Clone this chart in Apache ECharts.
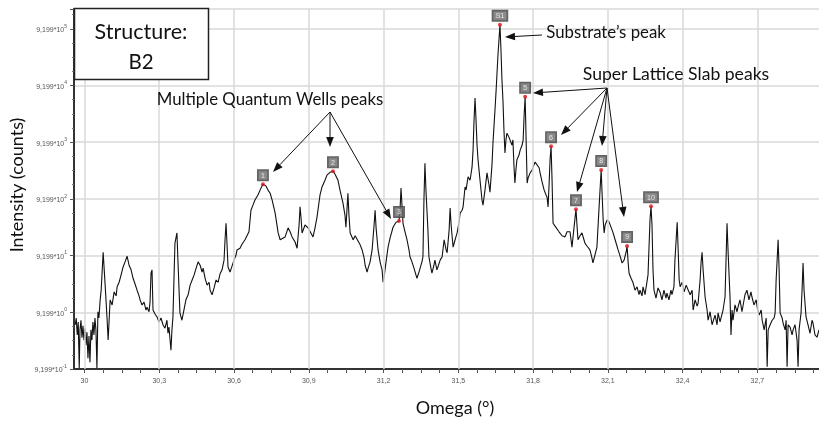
<!DOCTYPE html>
<html><head><meta charset="utf-8">
<script src="https://cdn.jsdelivr.net/npm/echarts@6/dist/echarts.min.js"></script>
<style>html,body{margin:0;padding:0;background:#fff}#c{width:819px;height:423px}</style>
</head><body><div id="c"></div>
<script>
// Omega (deg) and log10(Intensity / 9.199)
const omega = [
29.963,29.967,29.971,29.975,29.979,29.982,29.986,29.990,29.994,29.998,
30.002,30.006,30.010,30.014,30.018,30.022,30.026,30.030,30.034,30.038,
30.042,30.046,30.050,30.054,30.058,30.063,30.067,30.075,30.083,30.091,
30.095,30.103,30.111,30.119,30.127,30.131,30.139,30.147,30.155,30.163,
30.171,30.179,30.187,30.195,30.203,30.211,30.219,30.223,30.231,30.239,
30.247,30.251,30.259,30.263,30.267,30.271,30.275,30.283,30.291,30.299,
30.307,30.315,30.323,30.331,30.335,30.339,30.347,30.351,30.355,30.359,
30.363,30.371,30.375,30.383,30.391,30.399,30.407,30.416,30.424,30.432,
30.440,30.448,30.456,30.464,30.472,30.476,30.484,30.492,30.500,30.504,
30.512,30.520,30.528,30.536,30.544,30.552,30.560,30.564,30.568,30.572,
30.576,30.584,30.592,30.600,30.608,30.612,30.624,30.632,30.644,30.652,
30.660,30.668,30.676,30.684,30.696,30.708,30.716,30.728,30.736,30.745,
30.753,30.765,30.773,30.777,30.785,30.793,30.805,30.817,30.825,30.833,
30.845,30.853,30.861,30.865,30.869,30.873,30.885,30.897,30.905,30.917,
30.925,30.933,30.945,30.953,30.965,30.973,30.985,30.997,31.005,31.017,
31.025,31.037,31.045,31.049,31.053,31.057,31.061,31.066,31.078,31.086,
31.094,31.106,31.114,31.122,31.126,31.134,31.138,31.146,31.154,31.162,
31.166,31.170,31.178,31.186,31.194,31.198,31.202,31.210,31.218,31.226,
31.238,31.250,31.262,31.266,31.270,31.274,31.278,31.286,31.294,31.302,
31.306,31.314,31.322,31.326,31.334,31.342,31.346,31.354,31.358,31.362,
31.366,31.370,31.378,31.382,31.390,31.394,31.402,31.406,31.414,31.418,
31.427,31.435,31.443,31.451,31.455,31.463,31.467,31.471,31.479,31.487,
31.495,31.503,31.507,31.515,31.519,31.527,31.531,31.539,31.547,31.555,
31.559,31.563,31.567,31.571,31.575,31.579,31.587,31.595,31.599,31.607,
31.615,31.623,31.627,31.635,31.639,31.647,31.651,31.659,31.667,31.671,
31.675,31.679,31.683,31.687,31.691,31.695,31.703,31.707,31.715,31.719,
31.723,31.727,31.731,31.735,31.743,31.748,31.756,31.760,31.764,31.768,
31.772,31.776,31.780,31.788,31.796,31.800,31.808,31.816,31.824,31.828,
31.836,31.844,31.852,31.856,31.860,31.864,31.868,31.872,31.876,31.880,
31.888,31.896,31.904,31.908,31.916,31.928,31.936,31.944,31.948,31.956,
31.964,31.972,31.976,31.980,31.988,31.996,32.004,32.008,32.016,32.028,
32.036,32.040,32.048,32.056,32.064,32.073,32.077,32.081,32.085,32.089,
32.097,32.105,32.109,32.117,32.121,32.129,32.141,32.149,32.157,32.161,
32.165,32.173,32.177,32.181,32.185,32.193,32.201,32.209,32.217,32.225,
32.229,32.237,32.241,32.249,32.257,32.261,32.269,32.273,32.277,32.281,
32.285,32.293,32.301,32.309,32.317,32.325,32.333,32.337,32.345,32.353,
32.357,32.365,32.369,32.378,32.382,32.386,32.390,32.398,32.406,32.414,
32.422,32.430,32.438,32.442,32.450,32.458,32.462,32.470,32.474,32.478,
32.482,32.490,32.498,32.502,32.510,32.518,32.522,32.530,32.538,32.542,
32.550,32.558,32.562,32.570,32.574,32.578,32.582,32.590,32.594,32.598,
32.602,32.610,32.618,32.622,32.630,32.638,32.642,32.650,32.658,32.666,
32.674,32.678,32.686,32.695,32.699,32.707,32.715,32.719,32.727,32.735,
32.739,32.743,32.751,32.759,32.767,32.771,32.775,32.783,32.787,32.791,
32.799,32.803,32.811,32.815,32.819,32.823,32.831,32.839,32.843,32.851,
32.859,32.863,32.867,32.875,32.879,32.883,32.887,32.895,32.903,32.911,
32.919,32.923,32.931,32.939,32.947];
const logIntensity = [
-0.22,-0.10,-0.40,-0.17,-0.98,-0.31,-0.14,-0.45,-0.24,-0.49,
-0.28,-0.58,-0.35,-0.81,-0.42,-0.88,-0.31,-0.49,-0.17,-0.40,
-0.10,-0.31,-0.98,0.01,-0.10,0.22,0.39,1.06,0.48,-0.14,
-0.49,0.22,0.13,0.36,0.29,0.45,0.53,0.66,0.80,0.89,
0.99,0.83,0.75,0.60,0.50,0.39,0.29,0.22,0.13,0.18,
0.04,0.09,0.01,0.18,0.69,0.75,0.04,-0.03,-0.08,-0.17,
-0.10,-0.22,-0.28,-0.14,-0.37,-0.26,-0.67,-0.31,-0.08,0.57,
1.22,1.40,0.92,-0.01,-0.14,0.04,0.22,0.31,0.48,0.57,
0.66,0.78,0.89,0.83,0.71,0.78,0.60,0.48,0.53,0.39,
0.31,0.43,0.57,0.53,0.68,0.75,0.92,1.28,1.57,1.19,
0.80,0.71,0.69,0.92,1.01,1.10,1.13,1.20,1.28,1.28,
1.42,1.80,1.89,1.98,2.07,2.19,2.26,2.23,2.16,2.10,
1.98,1.75,1.52,1.40,1.28,1.31,1.33,1.49,1.42,1.33,
1.24,1.13,1.54,1.86,1.66,1.40,1.54,1.49,1.50,1.33,
1.49,1.68,2.07,2.21,2.33,2.42,2.47,2.49,2.44,2.33,
2.16,1.93,1.72,1.50,1.80,2.10,1.72,1.40,1.28,1.35,
1.33,1.19,1.10,0.96,0.83,0.71,0.78,0.89,1.10,1.54,
1.80,1.49,1.10,0.89,0.75,0.53,0.62,0.89,1.15,1.31,
1.50,1.59,1.61,1.80,2.19,1.89,1.57,1.42,1.28,1.10,
0.98,0.89,0.78,0.75,0.60,0.71,0.69,0.89,0.98,1.98,
2.63,2.16,1.45,0.98,0.78,0.69,0.83,0.92,0.75,0.80,
0.92,0.98,1.28,1.10,1.05,1.45,1.84,1.54,1.15,1.28,
1.40,1.59,1.75,1.80,1.86,2.21,2.16,2.39,2.33,2.56,
2.86,3.39,3.78,3.39,2.95,2.69,2.33,1.98,1.89,2.16,
2.46,2.25,2.12,2.60,2.99,3.57,3.87,4.54,5.07,4.63,
4.10,3.74,3.22,2.81,3.04,3.16,3.09,3.09,2.95,3.04,
2.60,2.28,2.51,2.69,2.77,2.86,2.95,3.04,3.48,3.80,
3.04,2.28,2.37,2.46,2.51,2.56,2.65,2.65,2.55,2.46,
2.30,2.16,2.07,2.03,1.86,2.25,2.69,2.93,2.33,1.57,
1.52,1.50,1.42,1.40,1.35,1.33,1.42,1.45,1.42,1.15,
1.49,1.82,1.54,1.28,1.35,1.40,1.28,1.22,1.17,1.10,
0.96,0.87,1.01,1.15,1.80,2.51,2.07,1.63,1.40,1.54,
1.63,1.59,1.57,1.45,1.40,1.28,1.10,0.99,0.87,0.90,
0.92,1.06,1.17,0.89,0.69,0.60,0.52,0.39,0.45,0.31,
0.39,0.29,0.45,0.31,0.34,0.66,1.63,1.87,1.54,0.75,
0.39,0.25,0.43,0.36,0.22,0.39,0.25,0.34,0.22,0.39,
0.31,0.45,0.92,1.59,1.10,0.57,0.45,0.53,0.36,0.48,
0.45,0.31,0.39,0.04,0.22,0.11,0.16,0.57,0.89,1.06,
0.75,0.27,0.04,-0.14,0.01,-0.22,-0.19,-0.05,-0.22,-0.01,
-0.17,-0.14,0.04,0.27,0.92,1.57,1.10,0.27,-0.40,0.04,
-0.14,0.13,0.01,0.09,0.22,0.01,0.04,0.31,0.39,0.22,
0.36,0.27,0.13,0.22,0.09,-0.05,0.04,-0.14,-0.31,-0.10,
-0.96,-0.31,-0.22,-0.14,-0.10,-0.01,0.57,1.28,0.75,-0.01,
-0.10,-0.19,-0.31,-0.14,-0.96,-0.22,-0.26,-0.40,-0.31,-0.22,
-0.49,-0.96,-0.31,-0.01,0.39,0.87,0.39,-0.08,-0.22,-0.37,
-0.14,-0.19,-0.40,-0.44,-0.31];

// Marked peaks
const peakNames = ['1','2','3','S1','5','6','7','8','9','10'];
const peakOmega = [30.716,30.997,31.262,31.667,31.768,31.872,31.972,32.073,32.177,32.273];
const peakLogI  = [2.26,2.49,1.61,5.07,3.80,2.93,1.82,2.51,1.17,1.87];

// Axis ticks
const xTickValues = [30,30.3,30.6,30.9,31.2,31.5,31.8,32.1,32.4,32.7];
const xTickLabels = ['30','30,3','30,6','30,9','31,2','31,5','31,8','32,1','32,4','32,7'];
const yExponents  = [-1,0,1,2,3,4,5];

const X_MIN = 29.958, X_MAX = 32.947;
const minorX = [];
for (let i = 0; i < xTickValues.length; i++) {
  for (let k = 0; k < 4; k++) {
    const v = +(xTickValues[i] + k * 0.075).toFixed(3);
    if (v <= X_MAX) minorX.push(v);
  }
}

const FONT = 'Lato';
function arrow(x1, y1, x2, y2) {
  const dx = x2 - x1, dy = y2 - y1, L = Math.hypot(dx, dy), ux = dx / L, uy = dy / L;
  const hl = 10, hw = 3.8, bx = x2 - ux * hl, by = y2 - uy * hl;
  return [
    {type: 'line', z: 50, shape: {x1, y1, x2: bx, y2: by}, style: {stroke: '#111', lineWidth: 1}},
    {type: 'polygon', z: 50, shape: {points: [[x2, y2], [bx - uy * hw, by + ux * hw], [bx + uy * hw, by - ux * hw]]}, style: {fill: '#111'}}
  ];
}
function txt(text, x, y, size, extra) {
  return Object.assign({type: 'text', z: 60, x, y, style: {text, fontSize: size, fontFamily: FONT, fill: '#111', align: 'center', verticalAlign: 'middle'}}, extra || {});
}

const graphics = [
  {type: 'rect', z: 40, shape: {x: 74.5, y: 8.5, width: 134, height: 71}, style: {fill: '#fff', stroke: '#222', lineWidth: 1.5}},
  txt('Structure:', 141, 32, 21.5),
  txt('B2', 141, 62, 20.5),
  txt('Multiple Quantum Wells peaks', 270, 100, 16.8),
  txt('Substrate\u2019s peak', 606, 33, 16.8),
  txt('Super Lattice Slab peaks', 676, 74, 17.6),
  txt('Intensity (counts)', 17, 185, 18, {rotation: Math.PI / 2}),
  txt('Omega (°)', 455, 408, 18),
  ...arrow(330, 112, 273, 172),
  ...arrow(330, 112, 330, 147),
  ...arrow(330, 112, 391, 219),
  ...arrow(542, 35, 505, 37),
  ...arrow(607, 88, 533, 93),
  ...arrow(607, 88, 561, 135),
  ...arrow(607, 88, 577, 192),
  ...arrow(607, 88, 602, 146),
  ...arrow(607, 88, 624, 217)
];

const chart = echarts.init(document.getElementById('c'), null, {renderer: 'canvas'});
chart.setOption({
  animation: false,
  backgroundColor: '#fff',
  grid: {left: 74, right: 0, top: 9, bottom: 54},
  xAxis: {
    type: 'value', min: X_MIN, max: X_MAX,
    axisLine: {show: true, onZero: false, lineStyle: {color: '#333', width: 2}},
    axisTick: {show: true, customValues: minorX, length: 4, lineStyle: {color: '#555'}},
    axisLabel: {
      customValues: xTickValues, margin: 9, fontSize: 7, color: '#555', fontFamily: 'Liberation Sans',
      formatter: v => { const i = xTickValues.findIndex(t => Math.abs(t - v) < 1e-6); return i >= 0 ? xTickLabels[i] : ''; }
    },
    splitLine: {show: false}
  },
  yAxis: {
    type: 'value', min: -1, max: 5.35, interval: 1,
    axisLine: {show: true, onZero: false, lineStyle: {color: '#333', width: 2}},
    axisTick: {show: true, length: 4, lineStyle: {color: '#555'}},
    minorTick: {show: true, splitNumber: 4, length: 2, lineStyle: {color: '#777'}},
    splitLine: {show: true, lineStyle: {color: '#d8d8d8', width: 1.5}},
    axisLabel: {
      showMaxLabel: false, margin: 7,
      formatter: v => yExponents.indexOf(v) >= 0 ? '{a|9,199*10}{s|' + v + '}' : '',
      rich: {
        a: {fontSize: 7, color: '#555', fontFamily: 'Liberation Sans', verticalAlign: 'bottom', lineHeight: 10},
        s: {fontSize: 5, color: '#555', fontFamily: 'Liberation Sans', verticalAlign: 'top', lineHeight: 10, padding: [0, 0, 5, 0]}
      }
    }
  },
  series: [
    {
      type: 'line', data: [], z: 1, silent: true,
      markLine: {silent: true, symbol: 'none', label: {show: false},
        lineStyle: {color: '#d8d8d8', width: 1.5, type: 'solid'},
        data: xTickValues.map(v => ({xAxis: v}))}
    },
    {
      type: 'line', z: 3, showSymbol: false, symbol: 'none', smooth: false,
      lineStyle: {color: '#111', width: 1.1},
      data: omega.map((x, i) => [x, logIntensity[i]])
    },
    {
      type: 'scatter', z: 5, symbolSize: 4,
      itemStyle: {color: '#e3121b'},
      data: peakOmega.map((x, i) => [x, peakLogI[i], peakNames[i]]),
      label: {
        show: true, position: 'top', distance: 2,
        formatter: p => p.data[2],
        backgroundColor: '#6e6e6e', borderColor: '#3c3c3c', borderWidth: 1,
        padding: [2, 3, 1, 3], color: '#fff', fontSize: 7, fontFamily: 'Liberation Sans'
      }
    }
  ],
  graphic: graphics
});
</script></body></html>
